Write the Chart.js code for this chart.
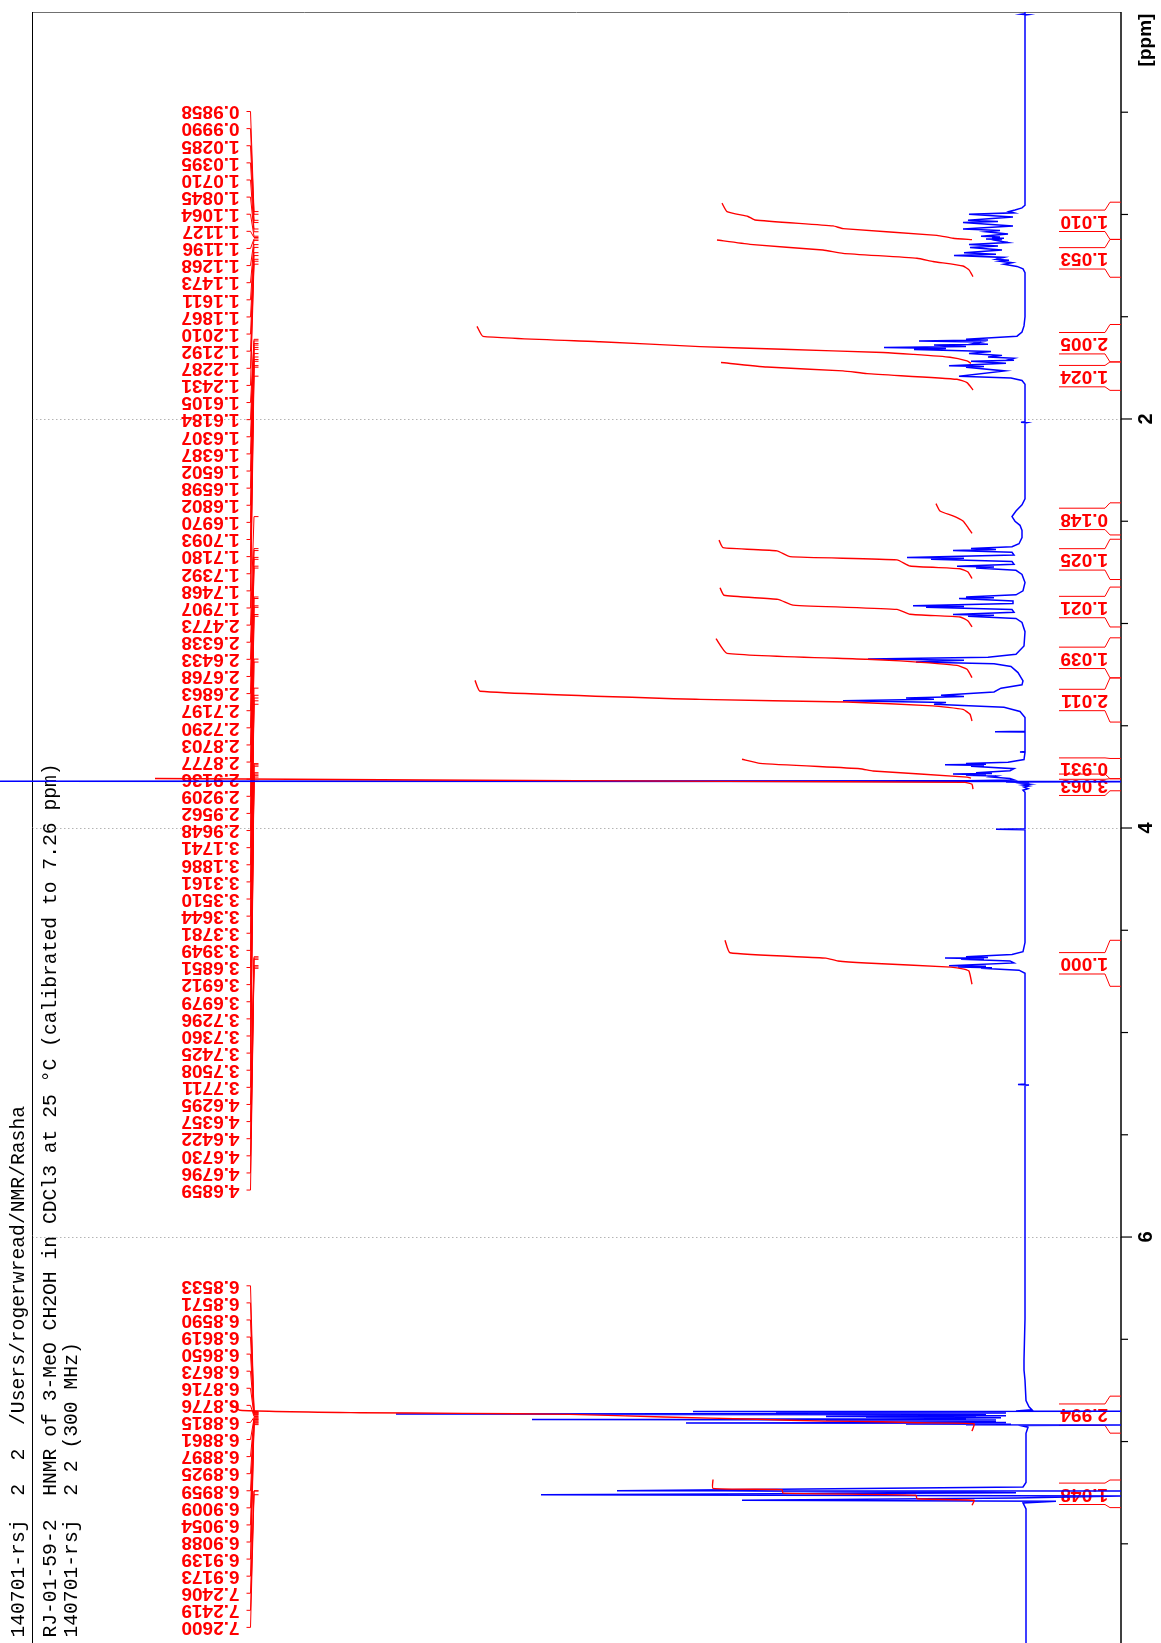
<!DOCTYPE html>
<html>
<head>
<meta charset="utf-8">
<title>HNMR of 3-MeO CH2OH</title>
<script src="https://cdn.jsdelivr.net/npm/chart.js@4.4.1/dist/chart.umd.min.js"></script>
<style>
  html, body { margin: 0; padding: 0; background: #fff; }
  canvas { display: block; }
</style>
</head>
<body>
<canvas id="nmr" width="1161" height="1643"></canvas>
<script>
// ---- header text (plotted sideways, page is rotated) ----
const headerLines = [
  '140701-rsj  2  2  /Users/rogerwread/NMR/Rasha',
  'RJ-01-59-2  HNMR of 3-MeO CH2OH in CDCl3 at 25 \u00B0C (calibrated to 7.26 ppm)',
  '140701-rsj  2 2 (300 MHz)'
];

// ---- ppm axis ----
const ppmTicks = [0.5, 1, 1.5, 2, 2.5, 3, 3.5, 4, 4.5, 5, 5.5, 6, 6.5, 7, 7.5];
const ppmLabels = [2, 4, 6];

// ---- peak picking lists ----
const peakListA = [0.9858, 0.9990, 1.0285, 1.0395, 1.0710, 1.0845, 1.1064, 1.1127, 1.1196, 1.1268,
  1.1473, 1.1611, 1.1867, 1.2010, 1.2192, 1.2287, 1.2431, 1.6105, 1.6184, 1.6307, 1.6387, 1.6502,
  1.6598, 1.6802, 1.6970, 1.7093, 1.7180, 1.7392, 1.7468, 1.7907, 2.4773, 2.6338, 2.6433, 2.6768,
  2.6863, 2.7197, 2.7290, 2.8703, 2.8777, 2.9136, 2.9209, 2.9562, 2.9648, 3.1741, 3.1886, 3.3161,
  3.3510, 3.3644, 3.3781, 3.3949, 3.6851, 3.6912, 3.6979, 3.7296, 3.7360, 3.7425, 3.7508, 3.7711,
  4.6295, 4.6357, 4.6422, 4.6730, 4.6796, 4.6859];
const peakListB = [6.8533, 6.8571, 6.8590, 6.8619, 6.8650, 6.8673, 6.8716, 6.8776, 6.8815, 6.8861,
  6.8897, 6.8925, 6.8959, 6.9009, 6.9054, 6.9088, 6.9139, 6.9173, 7.2406, 7.2419, 7.2600];

// ---- integrals: value, region start / end (ppm) ----
const integralValues = ['1.010', '1.053', '2.005', '1.024', '0.148', '1.025', '1.021', '1.039',
  '2.011', '0.931', '3.063', '1.000', '2.994', '1.048'];
const integralFrom = [0.940, 1.122, 1.538, 1.721, 2.410, 2.588, 2.822, 3.070, 3.266, 3.660, 3.759, 4.549, 6.778, 7.188];
const integralTo   = [1.122, 1.307, 1.721, 1.860, 2.567, 2.785, 3.017, 3.266, 3.482, 3.759, 3.818, 4.774, 6.959, 7.323];

// integral curves, [ppm, height]
const int1010 = [[0.945, 304], [0.986, 299], [1.010, 278], [1.027, 271], [1.056, 193], [1.069, 183], [1.102, 89], [1.116, 73], [1.123, 54]];
const int1053 = [[1.125, 309], [1.146, 276], [1.174, 203], [1.190, 183], [1.214, 109], [1.230, 93], [1.252, 63], [1.271, 57], [1.304, 53]];
const int2005 = [[1.547, 549], [1.596, 543], [1.622, 426], [1.646, 326], [1.659, 243], [1.675, 143], [1.684, 113], [1.698, 76], [1.716, 59], [1.728, 55]];
const int1024 = [[1.724, 305], [1.746, 259], [1.765, 183], [1.778, 159], [1.806, 69], [1.822, 59], [1.858, 53]];
const int0148 = [[2.414, 90], [2.450, 86], [2.474, 73], [2.499, 63], [2.531, 58], [2.559, 54]];
const int1025 = [[2.592, 307], [2.629, 303], [2.645, 249], [2.673, 236], [2.689, 129], [2.719, 116], [2.732, 66], [2.748, 58], [2.780, 54]];
const int1021 = [[2.825, 306], [2.862, 302], [2.882, 248], [2.910, 233], [2.931, 129], [2.955, 116], [2.968, 66], [2.988, 58], [3.017, 54]];
const int1039 = [[3.074, 310], [3.146, 299], [3.175, 159], [3.183, 126], [3.205, 69], [3.224, 59], [3.265, 54]];
const int2011 = [[3.278, 551], [3.331, 546], [3.371, 326], [3.384, 179], [3.403, 93], [3.420, 63], [3.444, 56], [3.477, 54]];
const int0931 = [[3.664, 284], [3.684, 266], [3.710, 166], [3.721, 153], [3.751, 59], [3.756, 55]];
const int3063 = [[3.758, 871], [3.765, 600], [3.772, 300], [3.777, 61], [3.786, 54], [3.810, 53]];
const int1000 = [[4.549, 301], [4.610, 296], [4.636, 200], [4.650, 188], [4.660, 160], [4.680, 75], [4.690, 62], [4.700, 57], [4.764, 54]];
const int2994 = [[6.813, 796], [6.847, 786], [6.859, 666], [6.862, 563], [6.867, 456], [6.880, 362], [6.891, 269], [6.900, 202], [6.903, 144], [6.908, 108], [6.913, 52], [6.949, 54]];
const int1048 = [[7.185, 313], [7.229, 313], [7.235, 244], [7.252, 243], [7.262, 110], [7.280, 109], [7.287, 52], [7.312, 54]];

// ---- spectrum trace, [ppm, intensity] ----
const spectrum = [
  [0.010, 1], [0.019, 1], [0.021, 4], [0.023, -2], [0.025, 1],
  [0.500, 1], [0.900, 1], [0.955, 1], [0.968, 4], [0.978, 11],
  [0.9858, 17], [0.992, 12], [0.9990, 57], [1.012, 13], [1.0285, 58], [1.034, 28], [1.0395, 63],
  [1.056, 13], [1.0710, 63], [1.078, 26], [1.0845, 40], [1.096, 18], [1.1064, 45], [1.1096, 26],
  [1.1127, 34], [1.116, 22], [1.1196, 40], [1.123, 24], [1.1268, 30], [1.137, 18], [1.1473, 57],
  [1.154, 28], [1.1611, 56], [1.174, 24], [1.1867, 62], [1.194, 30], [1.2010, 72], [1.210, 22],
  [1.2192, 30], [1.224, 17], [1.2287, 26], [1.236, 14], [1.2431, 22], [1.254, 9], [1.266, 3], [1.285, 1],
  [1.500, 1], [1.545, 2], [1.575, 4], [1.595, 9], [1.6105, 60], [1.614, 38], [1.6184, 107], [1.624, 45],
  [1.6307, 52], [1.634, 38], [1.6387, 92], [1.645, 60], [1.6502, 142], [1.655, 80], [1.6598, 112],
  [1.670, 35], [1.6802, 57], [1.689, 24], [1.6970, 38], [1.703, 12], [1.7093, 17], [1.713, 12],
  [1.7180, 55], [1.728, 20], [1.7392, 77], [1.743, 42], [1.7468, 60], [1.765, 21], [1.7907, 67],
  [1.800, 15], [1.812, 4], [1.830, 1],
  [2.014, 1], [2.016, 5], [2.018, -1], [2.020, 1],
  [2.390, 1], [2.420, 4], [2.450, 10], [2.4773, 14], [2.500, 11], [2.520, 6], [2.545, 4], [2.580, 4],
  [2.610, 7], [2.625, 14], [2.6338, 55], [2.638, 30], [2.6433, 73], [2.652, 14], [2.665, 12],
  [2.6768, 119], [2.681, 62], [2.6863, 95], [2.697, 14], [2.710, 12], [2.7197, 69], [2.724, 32],
  [2.7290, 50], [2.740, 10], [2.760, 4], [2.800, 1], [2.840, 3], [2.860, 10], [2.8703, 60], [2.874, 32],
  [2.8777, 67], [2.890, 13], [2.902, 13], [2.9136, 113], [2.917, 62], [2.9209, 100], [2.932, 14],
  [2.945, 12], [2.9562, 73], [2.960, 32], [2.9648, 58], [2.975, 10], [2.995, 4], [3.040, 1],
  [3.110, 2], [3.150, 10], [3.165, 38], [3.1741, 158], [3.180, 62], [3.1886, 110], [3.197, 32],
  [3.210, 15], [3.240, 8], [3.280, 3], [3.300, 4], [3.3161, 25], [3.335, 32], [3.3510, 85], [3.357, 62],
  [3.3644, 120], [3.371, 92], [3.3781, 183], [3.386, 80], [3.3949, 92], [3.410, 22], [3.430, 6], [3.460, 1],
  [3.527, 1], [3.529, 31], [3.531, 1], [3.626, 1], [3.628, 6], [3.630, 1],
  [3.665, 2], [3.678, 18], [3.6851, 60], [3.688, 40], [3.6912, 81], [3.694, 42], [3.6979, 55],
  [3.710, 12], [3.720, 16], [3.7296, 50], [3.733, 34], [3.7360, 73], [3.739, 40], [3.7425, 60],
  [3.746, 30], [3.7508, 35], [3.758, 16], [3.765, 12], [3.7695, 60], [3.7711, 1300], [3.7725, -250],
  [3.7745, 20], [3.778, -3], [3.782, 4], [3.786, -4], [3.790, 3], [3.795, -3], [3.800, 2], [3.808, -2],
  [3.815, 3], [3.825, 1],
  [4.004, 1], [4.006, 30], [4.008, 1],
  [4.560, 1], [4.605, 3], [4.618, 14], [4.6295, 60], [4.633, 38], [4.6357, 81], [4.639, 42],
  [4.6422, 65], [4.650, 16], [4.660, 12], [4.6730, 77], [4.676, 40], [4.6796, 68], [4.683, 34],
  [4.6859, 45], [4.695, 7], [4.710, 1],
  [5.252, 1], [5.254, 8], [5.257, -3], [5.259, 1],
  [6.400, 1], [6.600, 2], [6.650, 2], [6.700, 1], [6.800, 0], [6.830, -3], [6.845, -6],
  [6.850, 10], [6.8521, -95], [6.8533, 333], [6.855, 30], [6.8571, 180], [6.858, 40], [6.8590, 130], [6.860, 20],
  [6.8619, 250], [6.863, 50], [6.8650, 630], [6.866, 40], [6.8673, 400], [6.869, 60], [6.8716, 120],
  [6.874, 20], [6.8776, 200], [6.879, 50], [6.8815, 160], [6.884, 25], [6.8861, 100], [6.888, 60],
  [6.8897, 300], [6.891, 80], [6.8925, 494], [6.894, 30], [6.8959, 200], [6.898, 50], [6.9009, 90],
  [6.903, 30], [6.9054, 150], [6.907, 20], [6.9088, 340], [6.911, 40], [6.9139, 120], [6.9155, 15],
  [6.9173, 60], [6.9185, -95], [6.922, 5], [6.930, -2], [6.960, 0],
  [7.200, 0], [7.222, 3], [7.2406, 409], [7.2413, -100], [7.2419, 300], [7.250, 10], [7.2600, 485],
  [7.266, -100], [7.276, 10], [7.287, 284], [7.292, -30], [7.300, 3], [7.330, 0],
  [7.985, 0]
];

const integralCurves = [int1010, int1053, int2005, int1024, int0148, int1025, int1021, int1039,
  int2011, int0931, int3063, int1000, int2994, int1048];

function drawText(ctx, txt, x, y, angle, align) {
  ctx.save();
  ctx.translate(x, y);
  ctx.rotate(angle);
  ctx.textAlign = align;
  ctx.textBaseline = 'middle';
  ctx.fillText(txt, 0, 0);
  ctx.restore();
}

function line(ctx, pts) {
  ctx.beginPath();
  ctx.moveTo(pts[0][0], pts[0][1]);
  for (let i = 1; i < pts.length; i++) ctx.lineTo(pts[i][0], pts[i][1]);
  ctx.stroke();
}

/* frame, axis, header and all the labels */
const nmrDecor = {
  id: 'nmrDecor',
  beforeDatasetsDraw(chart) {
    const ctx = chart.ctx;
    const a = chart.chartArea;
    const y = chart.scales.y;
    ctx.save();

    // dotted grid at labelled ppm
    ctx.strokeStyle = '#b4b4b4';
    ctx.lineWidth = 1;
    ctx.setLineDash([1.5, 2.5]);
    ppmLabels.forEach(v => {
      const py = Math.round(y.getPixelForValue(v)) + 0.5;
      line(ctx, [[a.left, py], [a.right, py]]);
    });
    ctx.setLineDash([]);

    // frame
    ctx.strokeStyle = '#707070';
    line(ctx, [[a.left, a.top + 0.5], [a.right, a.top + 0.5]]);
    ctx.strokeStyle = '#000';
    line(ctx, [[a.left + 0.5, a.top], [a.left + 0.5, a.bottom]]);
    ctx.lineWidth = 1.5;
    line(ctx, [[a.right, a.top], [a.right, a.bottom]]);

    // ticks
    ctx.lineWidth = 1.2;
    ppmTicks.forEach(v => {
      const py = y.getPixelForValue(v);
      const len = ppmLabels.includes(v) ? 11 : 7;
      line(ctx, [[a.right, py], [a.right + len, py]]);
    });
    ctx.fillStyle = '#000';
    ctx.font = 'bold 20px "Liberation Sans", Arial, sans-serif';
    ppmLabels.forEach(v => drawText(ctx, String(v), a.right + 25, y.getPixelForValue(v), -Math.PI / 2, 'center'));
    ctx.font = 'bold 19px "Liberation Sans", Arial, sans-serif';
    drawText(ctx, '[ppm]', a.right + 25, a.top + 28, -Math.PI / 2, 'center');

    // header
    ctx.font = '19.7px "Liberation Mono", "DejaVu Sans Mono", monospace';
    const headerX = [18.5, 51, 72];
    headerLines.forEach((t, i) => drawText(ctx, t, headerX[i], 1637.6, -Math.PI / 2, 'left'));

    // integral brackets and values
    ctx.strokeStyle = '#ff0000';
    ctx.fillStyle = '#ff0000';
    ctx.lineWidth = 1;
    ctx.font = 'bold 19px "Liberation Sans", Arial, sans-serif';
    integralValues.forEach((t, i) => {
      const ys = y.getPixelForValue(integralFrom[i]);
      const ye = y.getPixelForValue(integralTo[i]);
      const yc = (ys + ye) / 2;
      line(ctx, [[a.right, ys], [a.right - 11, ys], [a.right - 16, yc - 10.7], [a.right - 62, yc - 10.7]]);
      line(ctx, [[a.right - 62, yc + 10.7], [a.right - 16, yc + 10.7], [a.right - 11, ye], [a.right, ye]]);
      drawText(ctx, t, a.right - 13, yc, Math.PI, 'left');
    });

    // peak labels with connectors
    const groups = [[peakListA, 111.5, 17.12], [peakListB, 1285.8, 17.08]];
    groups.forEach(([list, top, step]) => {
      list.forEach((v, i) => {
        const ly = top + step * i;
        const py = y.getPixelForValue(v);
        drawText(ctx, v.toFixed(4), 239.5, ly, Math.PI, 'left');
        line(ctx, [[246.5, ly], [250.5, ly], [254, py], [258.5, py]]);
      });
    });

    ctx.restore();
  }
};

const datasets = integralCurves.map(c => ({
  data: c.map(([p, v]) => ({x: v, y: p})),
  showLine: true,
  borderColor: '#ff0000',
  borderWidth: 1.4,
  pointRadius: 0,
  tension: 0.15
}));
datasets.push({
  data: spectrum.map(([p, v]) => ({x: v, y: p})),
  showLine: true,
  borderColor: '#0000ff',
  borderWidth: 1.5,
  pointRadius: 0,
  tension: 0,
  clip: {left: false, top: 0, right: 0, bottom: 0}
});

new Chart(document.getElementById('nmr'), {
  type: 'scatter',
  data: { datasets: datasets },
  options: {
    responsive: false,
    animation: false,
    devicePixelRatio: 1,
    layout: { padding: { left: 32, top: 12, right: 40, bottom: 0 } },
    plugins: { legend: { display: false }, tooltip: { enabled: false } },
    scales: {
      x: { type: 'linear', reverse: true, min: -95, max: 994, display: false },
      y: { type: 'linear', reverse: true, min: 0.01, max: 7.985, display: false }
    }
  },
  plugins: [nmrDecor]
});
</script>
</body>
</html>
